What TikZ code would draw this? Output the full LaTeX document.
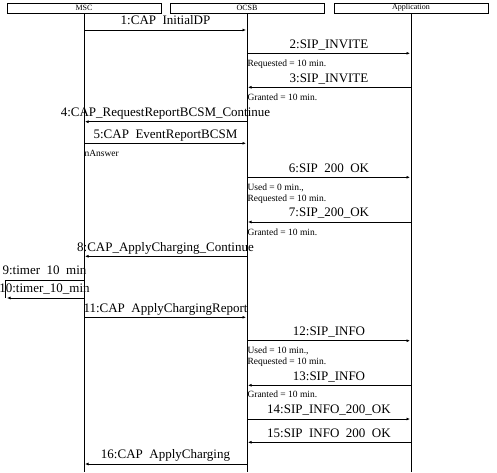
\documentclass[tikz,border=0pt]{standalone}
\usepackage{fontspec}
\setmainfont{Liberation Serif}
\usetikzlibrary{arrows.meta}

\begin{document}
\begin{tikzpicture}[x=1pt,y=-1pt,line width=1pt,
  headbox/.style={draw,minimum width=154pt,minimum height=10pt,inner sep=0pt,font=\fontsize{8}{9}\selectfont},
  msg/.style={-{Latex[length=3.5pt,width=3pt]},shorten >=1pt},
  lbl/.style={midway,anchor=base,yshift=5.3pt,inner sep=0pt,font=\fontsize{13}{15}\selectfont},
  note/.style={anchor=base west,inner sep=0pt,font=\fontsize{9.5}{11}\selectfont}]
  \useasboundingbox (0,0) rectangle (497,472);
  \node[headbox] (msc) at (84,8) {MSC};\node[headbox] (ocsb) at (247,8) {OCSB};\node[headbox] (app) at (411,8) {Application};
  \coordinate (bottom) at (0,472);\coordinate (t9) at (5,280);\coordinate (t10) at (5,298);
  \foreach \L in {msc,ocsb,app}{\draw (\L.south) -- (\L |- bottom);}
  \foreach \y/\a/\b/\t [count=\i] in {30/msc/ocsb/{1:CAP\ \ InitialDP},53.3/ocsb/app/{2:SIP\_INVITE},
    87.3/app/ocsb/{3:SIP\_INVITE},121.7/ocsb/msc/{4:CAP\_RequestReportBCSM\_Continue},
    143.3/msc/ocsb/{5:CAP\ \ EventReportBCSM},177.3/ocsb/app/{6:SIP\ \ 200\ \ OK},
    222/app/ocsb/{7:SIP\_200\_OK},256.3/ocsb/msc/{8:CAP\_ApplyCharging\_Continue},
    317.3/msc/ocsb/{11:CAP\ \ ApplyChargingReport},340.7/ocsb/app/{12:SIP\_INFO},
    385.3/app/ocsb/{13:SIP\_INFO},419/ocsb/app/{14:SIP\_INFO\_200\_OK},
    442.3/app/ocsb/{15:SIP\ \ INFO\ \ 200\ \ OK},464/ocsb/msc/{16:CAP\ \ ApplyCharging}}
    {\draw[msg] (\a |- 0,\y) -- node[lbl] (m\i) {\t} (\b |- 0,\y);}
  \draw (msc |- t9) -- node[lbl] (timer9) {9:timer\ \ 10\ \ min} (t9) -- (t10);
  \draw[msg,shorten >=2pt] (msc |- t10) -- node[lbl] (timer10) {10:timer\_10\_min} (t10);
  \foreach \L/\y/\t [count=\i] in {ocsb/66/{Requested = 10 min.},ocsb/100/{Granted = 10 min.},msc/156/nAnswer,
    ocsb/190/{Used = 0 min.,},ocsb/201/{Requested = 10 min.},ocsb/235/{Granted = 10 min.},
    ocsb/353/{Used = 10 min.,},ocsb/364/{Requested = 10 min.},ocsb/397/{Granted = 10 min.}}
    {\node[note] (n\i) at (\L |- 0,\y) {\t};}
\end{tikzpicture}
\end{document}
